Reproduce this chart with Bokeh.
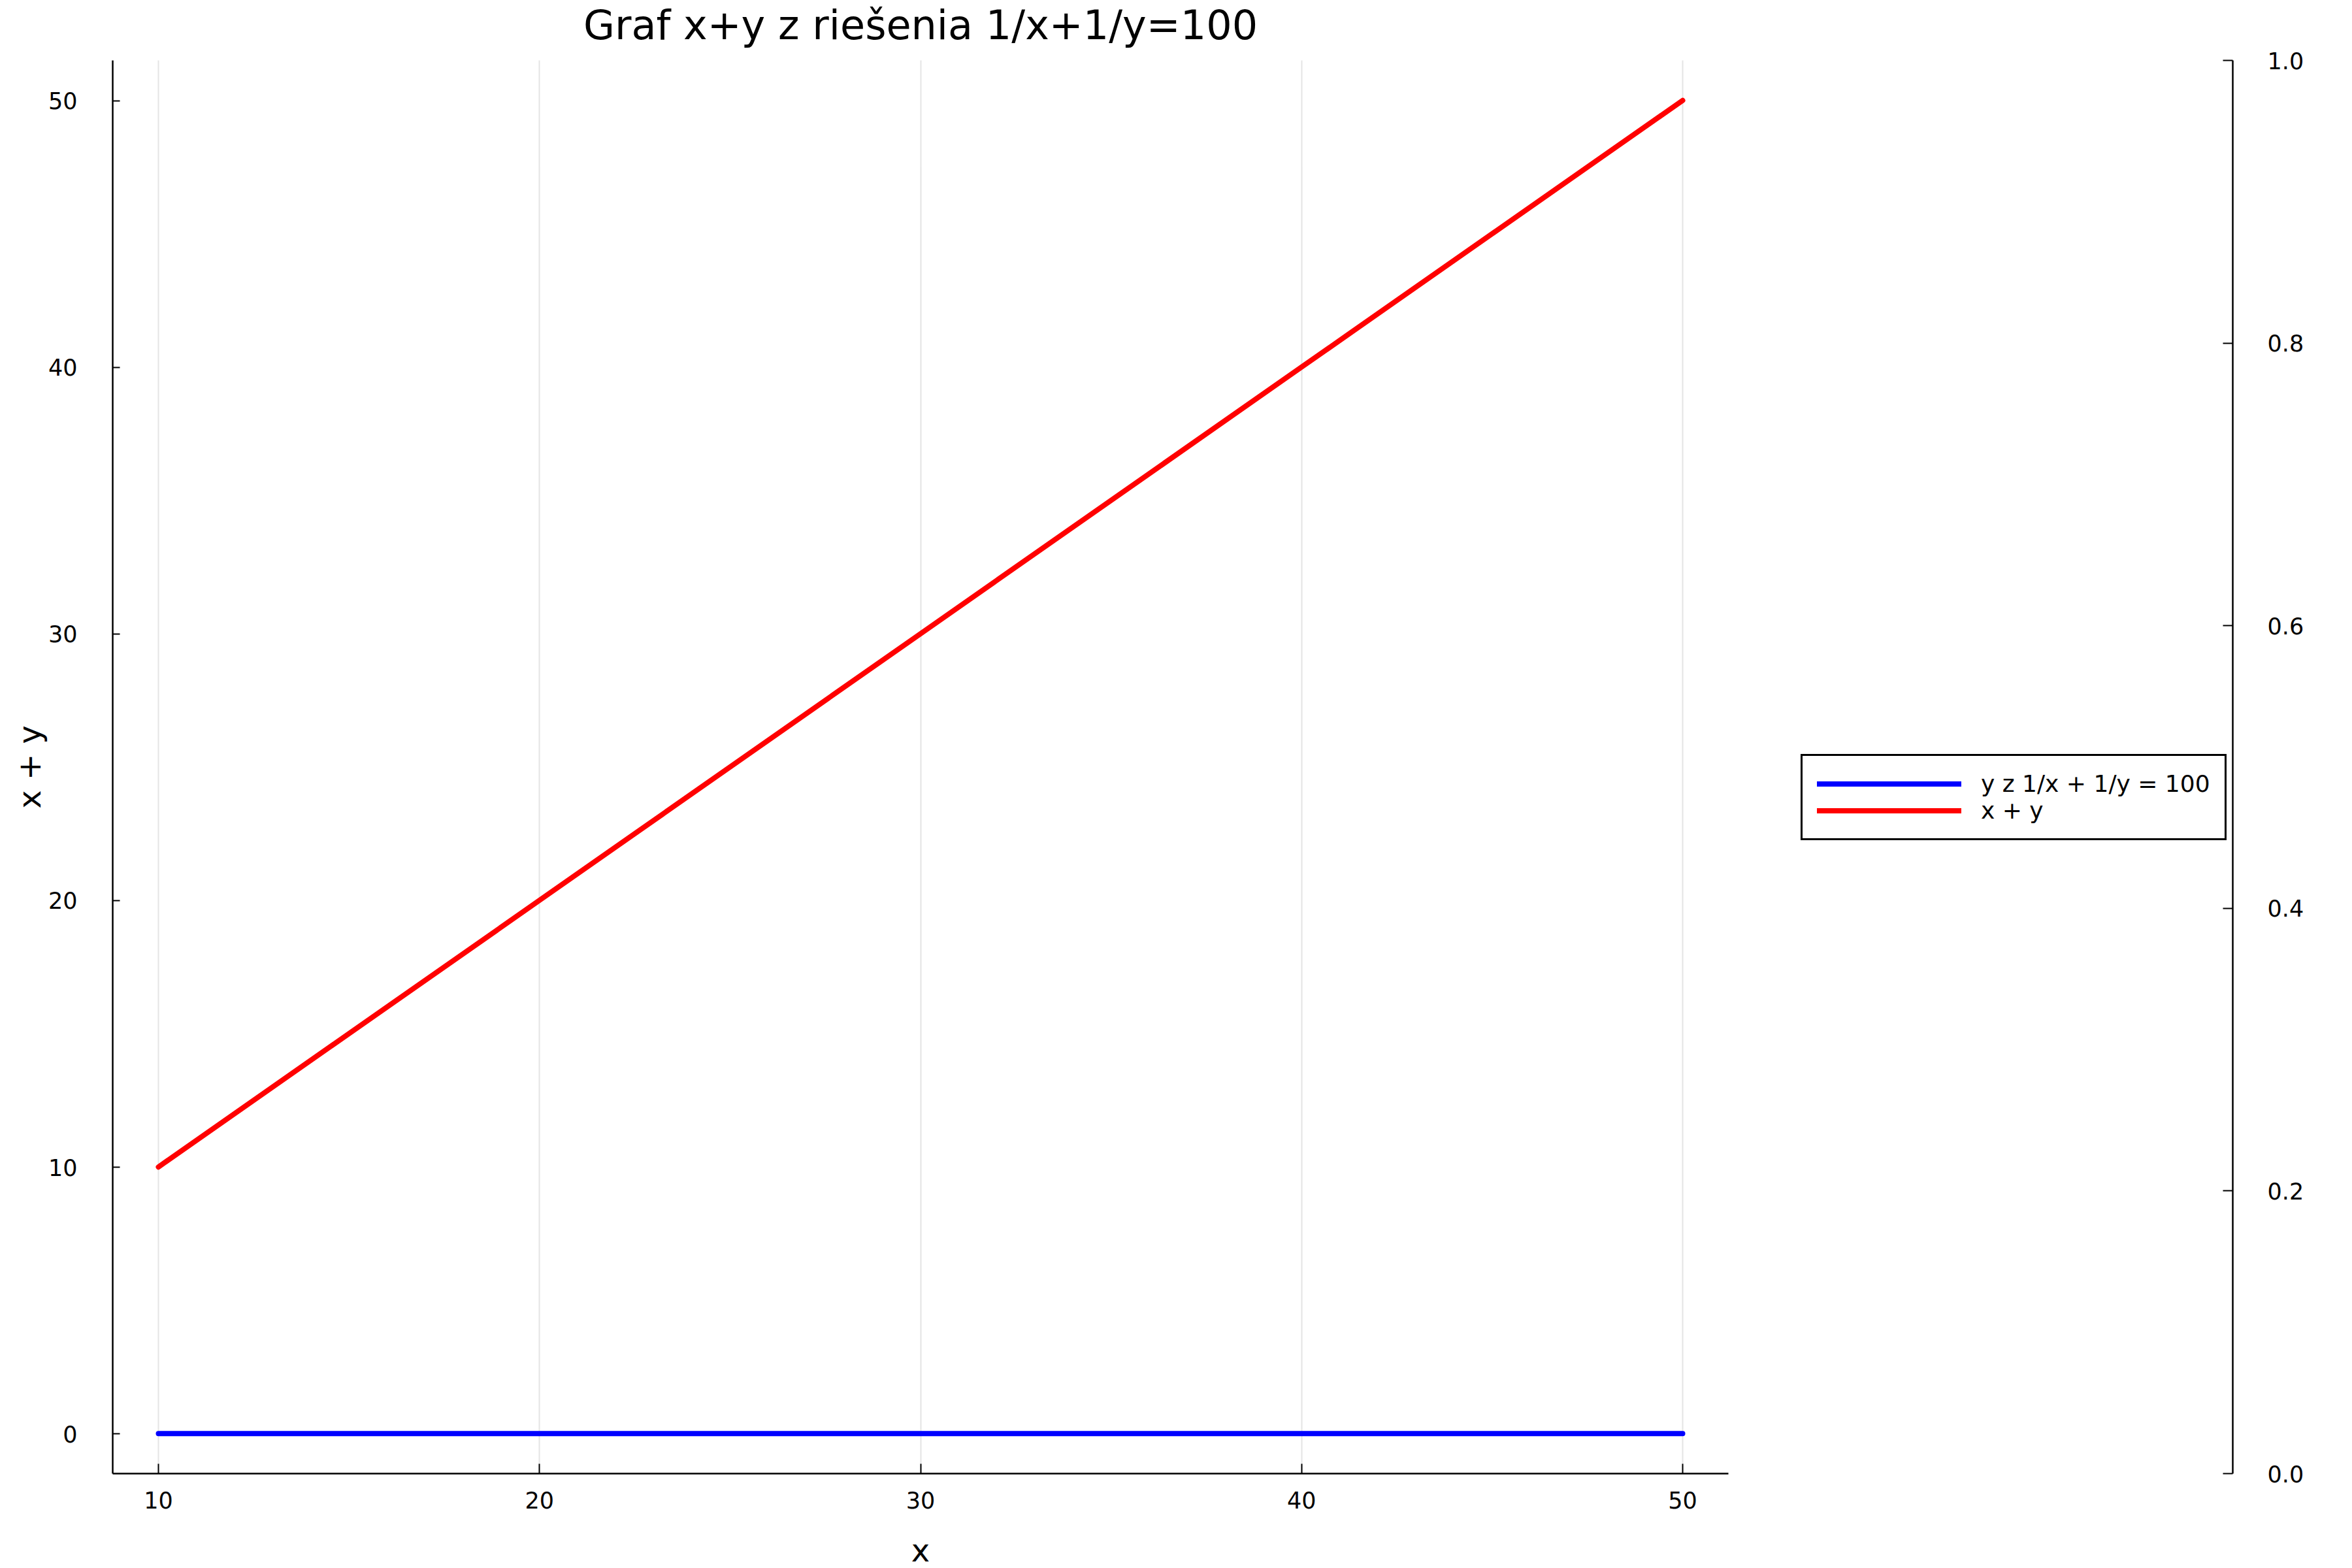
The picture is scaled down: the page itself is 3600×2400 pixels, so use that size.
import math
from bokeh.plotting import figure
from bokeh.models import (Range1d, LinearAxis, FixedTicker, PrintfTickFormatter,
                          Legend, LegendItem, Label)
from bokeh.embed import file_html
from bokeh.resources import INLINE

# ---- data ----
x_vals = [10, 20, 30, 40, 50]
y_solution = [0.01, 0.01, 0.01, 0.01, 0.01]      # y from 1/x + 1/y = 100 (~0.01)
x_plus_y = [10.01, 20.01, 30.01, 40.01, 50.01]    # x + y
x_ticks = [10, 20, 30, 40, 50]
y_ticks = [0, 10, 20, 30, 40, 50]
right_ticks = [0.0, 0.2, 0.4, 0.6, 0.8, 1.0]

title_text = "Graf x+y z riešenia 1/x+1/y=100"
xlabel = "x"
ylabel = "x + y"
legend_labels = ["y z 1/x + 1/y = 100", "x + y"]

FONT = "DejaVu Sans"
TICK_FS = "35px"

# ---- layout (pixels) ----
W, H = 3600, 2400
LEFT, TOP, BOTTOM = 172, 92, 2255      # main plot box
MAIN_RIGHT, RIGHT_AXIS = 2645, 3417

# ---- data ranges of the main box ----
xmin, xmax = min(x_vals), max(x_vals)
xpad = 0.03 * (xmax - xmin)
x0, x_main_end = xmin - xpad, xmax + xpad
ppu_x = (MAIN_RIGHT - LEFT) / (x_main_end - x0)

all_y = y_solution + x_plus_y
ymin, ymax = min(all_y), max(all_y)
ypad = 0.03 * (ymax - ymin)
y0, y1 = ymin - ypad, ymax + ypad
ppu_y = (BOTTOM - TOP) / (y1 - y0)

def px_to_x(px):
    return x0 + (px - LEFT) / ppu_x

def px_to_y(py):
    return y0 + (BOTTOM - py) / ppu_y

# the frame covers the whole canvas; the axes sit at fixed locations
p = figure(width=W, height=H, output_backend="svg", toolbar_location=None,
           x_range=Range1d(px_to_x(0), px_to_x(W)),
           y_range=Range1d(px_to_y(H), px_to_y(0)),
           min_border=0)
p.outline_line_color = None
p.background_fill_color = "white"
p.border_fill_color = "white"

# grids
p.ygrid.visible = False
p.xgrid.ticker = FixedTicker(ticks=x_ticks)
p.xgrid.grid_line_color = "#e4e4e4"
p.xgrid.grid_line_width = 2
p.xgrid.bounds = (x0, x_main_end)
p.xgrid.cross_bounds = (y0, y1)

def style_axis(ax, tick_in, standoff):
    ax.axis_line_width = 2.5
    ax.axis_line_color = "black"
    ax.major_tick_line_width = 2
    ax.major_tick_line_color = "black"
    ax.major_tick_in = tick_in
    ax.major_tick_out = 0
    ax.minor_tick_in = 0
    ax.minor_tick_out = 0
    ax.major_label_standoff = standoff
    ax.major_label_text_font = FONT
    ax.major_label_text_font_size = TICK_FS
    ax.major_label_text_color = "black"

# bottom axis
xa = p.xaxis[0]
xa.ticker = FixedTicker(ticks=x_ticks)
xa.bounds = (x0, x_main_end)
xa.fixed_location = y0
style_axis(xa, 15, 27)

# left axis
ya = p.yaxis[0]
ya.ticker = FixedTicker(ticks=y_ticks)
ya.bounds = (y0, y1)
ya.fixed_location = x0
style_axis(ya, 11, 54)

# right (twin) axis, 0..1 over the same box height
r_start = 0 - (H - BOTTOM) / (BOTTOM - TOP)
r_end = 1 + TOP / (BOTTOM - TOP)
p.extra_y_ranges = {"right": Range1d(r_start, r_end)}
ra = LinearAxis(y_range_name="right", ticker=FixedTicker(ticks=right_ticks),
                formatter=PrintfTickFormatter(format="%.1f"),
                bounds=(0, 1), fixed_location=px_to_x(RIGHT_AXIS))
style_axis(ra, 15, 53)
p.add_layout(ra, "right")

# lines
r_blue = p.line(x_vals, y_solution, line_color="#0000ff", line_width=8, line_cap="round")
r_red = p.line(x_vals, x_plus_y, line_color="#ff0000", line_width=8, line_cap="round")

# legend
legend = Legend(items=[LegendItem(label=legend_labels[0], renderers=[r_blue]),
                       LegendItem(label=legend_labels[1], renderers=[r_red])],
                location=(2756, H - 1286), margin=0, padding=22, spacing=0,
                glyph_width=221, glyph_height=39, label_height=39,
                label_standoff=30, label_text_font=FONT,
                label_text_font_size="36px", label_text_color="black",
                border_line_color="black", border_line_width=3, border_line_alpha=1,
                background_fill_color="white", background_fill_alpha=1)
p.add_layout(legend, "center")

xmid = (xmin + xmax) / 2
ymid = (y0 + y1) / 2

# title
p.add_layout(Label(x=xmid, y=px_to_y(38), text=title_text,
                   text_align="center", text_baseline="alphabetic",
                   text_font=FONT, text_font_size="62px", text_color="black"))
# x label
p.add_layout(Label(x=xmid, y=px_to_y(2372), text=xlabel,
                   text_align="center", text_baseline="alphabetic",
                   text_font=FONT, text_font_size="48px", text_color="black"))
# y label (rotated, close to the left edge)
p.add_layout(Label(x=px_to_x(44), y=ymid, text=ylabel,
                   angle=math.pi / 2, text_align="center", text_baseline="alphabetic",
                   text_font=FONT, text_font_size="48px", text_color="black"))

open("out.html", "w").write(file_html(p, INLINE))
